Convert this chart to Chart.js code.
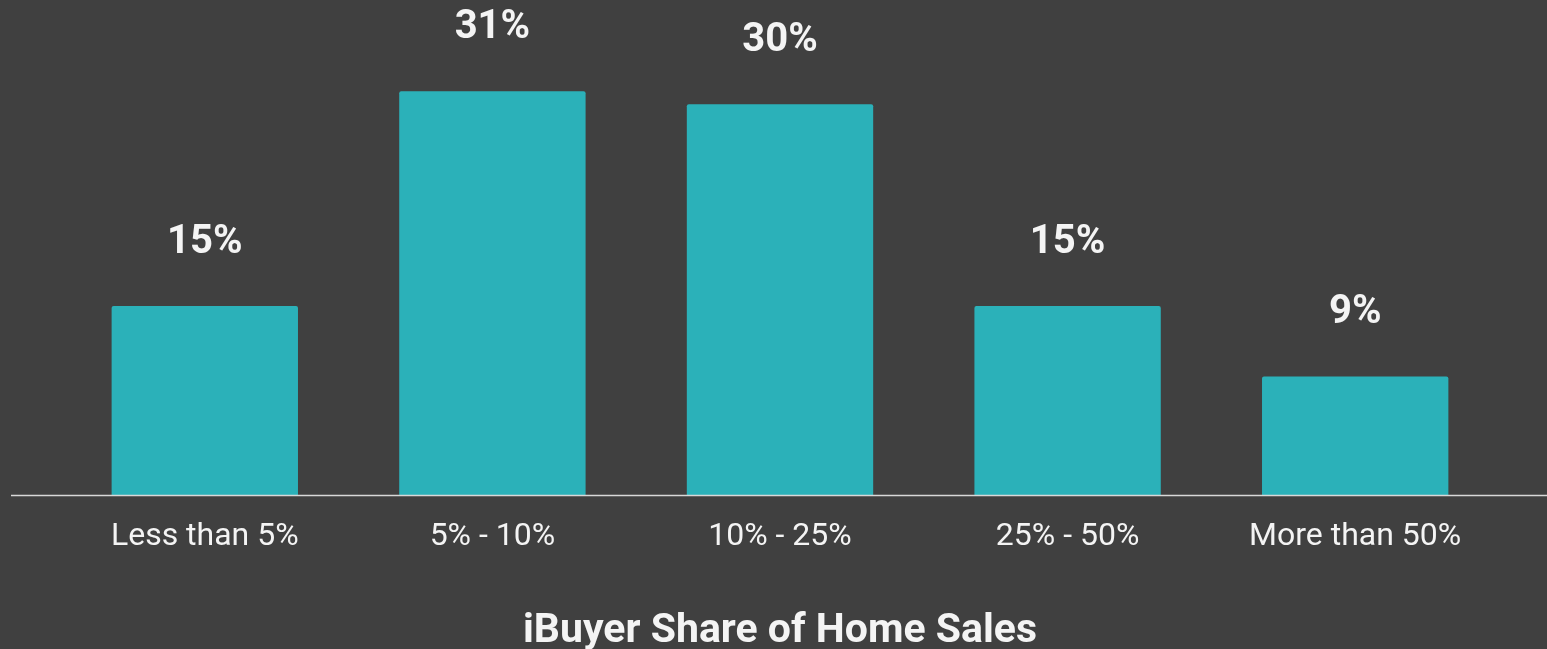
<!DOCTYPE html>
<html>
<head>
<meta charset="utf-8">
<script src="https://cdn.jsdelivr.net/npm/chart.js@4.4.1/dist/chart.umd.min.js"></script>
<style>
html,body{margin:0;padding:0;background:#404040;}
#wrap{width:1547px;height:649px;position:relative;}
</style>
</head>
<body>
<div id="wrap"><canvas id="c" width="1547" height="649"></canvas></div>
<script>
const categories = ["Less than 5%", "5% - 10%", "10% - 25%", "25% - 50%", "More than 50%"];
const shareValues = [14.5, 31, 30, 14.5, 9.1];
const valueLabels = ["15%", "31%", "30%", "15%", "9%"];
const axisTitle = "iBuyer Share of Home Sales";

const barColor = "#2bb1b9";
const textColor = "#f4f4f4";

const valueLabelPlugin = {
  id: "valueLabels",
  afterDatasetsDraw(chart) {
    const ctx = chart.ctx;
    const meta = chart.getDatasetMeta(0);
    ctx.save();
    ctx.fillStyle = textColor;
    ctx.font = "bold 40px Roboto";
    ctx.textAlign = "center";
    ctx.textBaseline = "middle";
    meta.data.forEach((bar, i) => {
      ctx.fillText(valueLabels[i], bar.x, bar.y - 63);
    });
    ctx.restore();
  }
};

const baselinePlugin = {
  id: "baseline",
  afterDatasetsDraw(chart) {
    const ctx = chart.ctx;
    const y = Math.round(chart.scales.y.getPixelForValue(0)) + 0.5;
    ctx.save();
    ctx.strokeStyle = "#d8d8d8";
    ctx.lineWidth = 1.5;
    ctx.beginPath();
    ctx.moveTo(11, y);
    ctx.lineTo(chart.width, y);
    ctx.stroke();
    ctx.restore();
  }
};

new Chart(document.getElementById("c"), {
  type: "bar",
  data: {
    labels: categories,
    datasets: [{
      data: shareValues,
      backgroundColor: barColor,
      borderRadius: 2,
      borderSkipped: "bottom",
      categoryPercentage: 1,
      barPercentage: 0.648
    }]
  },
  options: {
    responsive: false,
    animation: false,
    layout: { padding: { left: 61, right: 48, top: 0, bottom: 0 } },
    plugins: { legend: { display: false }, tooltip: { enabled: false } },
    scales: {
      x: {
        grid: { display: false, drawTicks: false },
        border: { display: false },
        ticks: { color: textColor, font: { family: "Roboto", size: 32 }, padding: 23, maxRotation: 0 },
        title: { display: true, text: axisTitle, color: textColor, font: { family: "Roboto", size: 41, weight: "bold" }, padding: { top: 50, bottom: -7 } },
        afterFit(scale) { scale.height = 154; }
      },
      y: {
        display: false,
        min: 0,
        max: 38
      }
    }
  },
  plugins: [valueLabelPlugin, baselinePlugin]
});
</script>
</body>
</html>
